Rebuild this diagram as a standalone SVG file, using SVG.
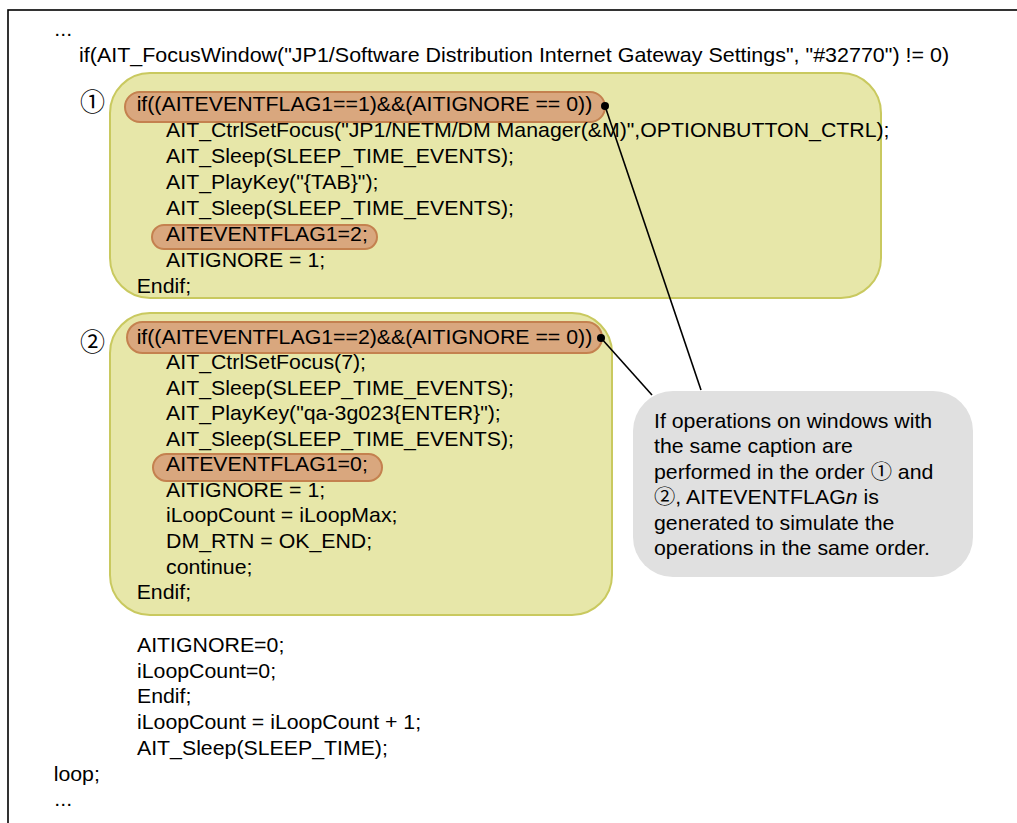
<svg xmlns="http://www.w3.org/2000/svg" width="1017" height="823" viewBox="0 0 1017 823">
<style>
.t{font-family:"Liberation Sans","Noto Sans CJK JP",Arial,sans-serif;font-size:20px;fill:#000}
.n{font-family:"Noto Sans CJK JP","Liberation Sans",sans-serif;font-size:25px;fill:#000}
.c{font-family:"Noto Sans CJK JP","Liberation Sans",sans-serif;font-size:20px}
.blk{fill:#e7e7a9;stroke:#c9c95f;stroke-width:2}
.pill{fill:#d9a77e;stroke:#c4814f;stroke-width:2}
.note{fill:#e0e0e0;stroke:none}
.ln{stroke:#000;stroke-width:1.6;fill:none}
</style>
<rect x="8" y="10" width="1030" height="840" fill="#fff" stroke="#000" stroke-width="1.6"/>
<g id="block1">
<rect class="blk" x="110" y="73" width="771" height="225" rx="40"/>
<rect class="pill" x="125" y="92" width="480" height="30" rx="15"/>
<rect class="pill" x="152" y="225" width="225" height="24" rx="12"/>
</g>
<g id="block2">
<rect class="blk" x="110" y="313" width="502" height="302" rx="40"/>
<rect class="pill" x="127" y="322" width="475" height="31" rx="15.5"/>
<rect class="pill" x="153" y="454" width="229" height="27" rx="13.5"/>
</g>
<g id="note">
<rect class="note" x="633" y="391" width="340" height="186" rx="40"/>
</g>
<g id="connectors">
<line class="ln" x1="605" y1="106" x2="701" y2="390"/>
<line class="ln" x1="601" y1="338" x2="652" y2="395"/>
<circle cx="605" cy="106" r="4" fill="#000"/>
<circle cx="601" cy="338" r="4" fill="#000"/>
</g>
<g id="labels">
<text class="n" x="80" y="111">①</text>
<text class="n" x="80" y="351">②</text>
</g>
<g id="code" transform="scale(1.065,1)">
<text class="t" x="51" y="36">...</text>
<text class="t" x="74.2" y="62.5" textLength="817" lengthAdjust="spacingAndGlyphs">if(AIT_FocusWindow("JP1/Software Distribution Internet Gateway Settings", "#32770") != 0)</text>
<text class="t" x="128.3" y="111.5">if((AITEVENTFLAG1==1)&amp;&amp;(AITIGNORE == 0))</text>
<text class="t" x="155.9" y="137.4">AIT_CtrlSetFocus("JP1/NETM/DM Manager(&amp;M)",OPTIONBUTTON_CTRL);</text>
<text class="t" x="155.9" y="163.3">AIT_Sleep(SLEEP_TIME_EVENTS);</text>
<text class="t" x="155.9" y="189.2">AIT_PlayKey("{TAB}");</text>
<text class="t" x="155.9" y="215.1">AIT_Sleep(SLEEP_TIME_EVENTS);</text>
<text class="t" x="155.9" y="241">AITEVENTFLAG1=2;</text>
<text class="t" x="155.9" y="266.9">AITIGNORE = 1;</text>
<text class="t" x="128.3" y="292.8">Endif;</text>
<text class="t" x="128.3" y="344">if((AITEVENTFLAG1==2)&amp;&amp;(AITIGNORE == 0))</text>
<text class="t" x="155.9" y="369.5">AIT_CtrlSetFocus(7);</text>
<text class="t" x="155.9" y="395">AIT_Sleep(SLEEP_TIME_EVENTS);</text>
<text class="t" x="155.9" y="420.5">AIT_PlayKey("qa-3g023{ENTER}");</text>
<text class="t" x="155.9" y="446">AIT_Sleep(SLEEP_TIME_EVENTS);</text>
<text class="t" x="155.9" y="471.5">AITEVENTFLAG1=0;</text>
<text class="t" x="155.9" y="497">AITIGNORE = 1;</text>
<text class="t" x="155.9" y="522.5">iLoopCount = iLoopMax;</text>
<text class="t" x="155.9" y="548">DM_RTN = OK_END;</text>
<text class="t" x="155.9" y="574">continue;</text>
<text class="t" x="128.3" y="599.5">Endif;</text>
<text class="t" x="128.6" y="652">AITIGNORE=0;</text>
<text class="t" x="128.6" y="678">iLoopCount=0;</text>
<text class="t" x="128.6" y="703.5">Endif;</text>
<text class="t" x="128.6" y="729.5">iLoopCount = iLoopCount + 1;</text>
<text class="t" x="128.6" y="755">AIT_Sleep(SLEEP_TIME);</text>
<text class="t" x="50.4" y="781">loop;</text>
<text class="t" x="51" y="806">...</text>
<text class="t" x="614.1" y="428">If operations on windows with</text>
<text class="t" x="614.1" y="453.5">the same caption are</text>
<text class="t" x="614.1" y="479">performed in the order <tspan class="c">①</tspan> and</text>
<text class="t" x="614.1" y="504.5"><tspan class="c">②</tspan>, AITEVENTFLAG<tspan font-style="italic">n</tspan> is</text>
<text class="t" x="614.1" y="530">generated to simulate the</text>
<text class="t" x="614.1" y="555.5">operations in the same order.</text>
</g>
</svg>
